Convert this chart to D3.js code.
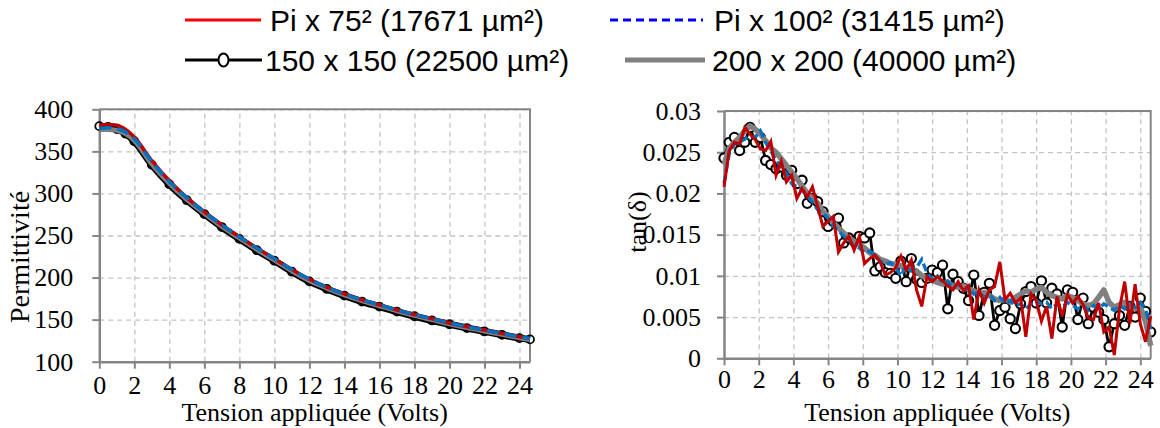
<!DOCTYPE html>
<html>
<head>
<meta charset="utf-8">
<script src="https://cdn.jsdelivr.net/npm/d3@7/dist/d3.min.js"></script>
<style>
  body { margin: 0; background: #fff; }
</style>
</head>
<body>
<svg id="chart" width="1160" height="428"></svg>
<script>
// ---- data ----
var seriesNames = ["Pi x 75\u00b2 (17671 \u00b5m\u00b2)", "Pi x 100\u00b2 (31415 \u00b5m\u00b2)",
                   "150 x 150 (22500 \u00b5m\u00b2)", "200 x 200 (40000 \u00b5m\u00b2)"];

var xTicks = [0, 2, 4, 6, 8, 10, 12, 14, 16, 18, 20, 22, 24];
var permTicks = [100, 150, 200, 250, 300, 350, 400];
var tanTicks = [0, 0.005, 0.01, 0.015, 0.02, 0.025, 0.03];
var tanTickLabels = ["0", "0.005", "0.01", "0.015", "0.02", "0.025", "0.03"];

// permittivity vs voltage
var voltsP = [0, 0.5, 1, 1.5, 2, 3, 4, 5, 6, 7, 8, 9, 10, 11, 12, 13, 14, 15, 16, 17, 18, 19, 20, 21, 22, 23, 24, 24.6];
var permRed   = [381, 382, 381, 376, 367, 339, 315, 295, 278, 262.5, 248.5, 235, 222.5, 209.5, 198, 188.5, 180.5, 173.5, 167.5, 161.5, 156, 151, 146, 141.5, 137.5, 133.5, 129.5, 127.5];
var permBlue  = [377, 378, 377, 373, 365, 338, 314, 295, 278, 262.5, 248.5, 235, 222.5, 209.5, 198, 188.5, 180.5, 173.5, 167.5, 161.5, 156, 151, 146, 141.5, 137.5, 133.5, 129.5, 127.5];
var permBlack = [380, 379, 376.5, 371, 362, 334, 311, 292, 275.5, 260, 246, 232.5, 220, 207, 195.5, 186.5, 178.5, 171.5, 165.5, 159.5, 154, 149, 144.5, 140, 136, 132, 128, 126.5];
var permGray  = [376, 376, 375, 371, 363, 335, 312, 293, 276.5, 261, 247, 233.5, 221, 208, 196.5, 187.5, 179.5, 172.5, 166.5, 160.5, 155, 150, 145, 140.5, 136.5, 132.5, 128.5, 126.5];

// tan(delta) vs voltage
var voltsT = [0, 0.3, 0.6, 0.9, 1.2, 1.5, 1.8, 2.1, 2.4, 2.7, 3, 3.3, 3.6, 3.9, 4.2, 4.5, 4.8, 5.1, 5.4, 5.7,
              6, 6.3, 6.6, 6.9, 7.2, 7.5, 7.8, 8.1, 8.4, 8.7, 9, 9.3, 9.6, 9.9, 10.2, 10.5, 10.8, 11.1, 11.4, 11.7,
              12, 12.3, 12.6, 12.9, 13.2, 13.5, 13.8, 14.1, 14.4, 14.7, 15, 15.3, 15.6, 15.9, 16.2, 16.5, 16.8, 17.1, 17.4, 17.7,
              18, 18.3, 18.6, 18.9, 19.2, 19.5, 19.8, 20.1, 20.4, 20.7, 21, 21.3, 21.6, 21.9, 22.2, 22.5, 22.8, 23.1, 23.4, 23.7,
              24, 24.3, 24.6];
var tanBlack = [0.0243, 0.0262, 0.0268, 0.0252, 0.0262, 0.0280, 0.0262, 0.0268, 0.0240, 0.0235, 0.0230, 0.0232, 0.0222, 0.0228, 0.0212, 0.0216, 0.0188, 0.0194, 0.0190, 0.0178,
                0.0160, 0.0166, 0.0170, 0.0140, 0.0146, 0.0142, 0.0148, 0.0146, 0.0152, 0.0106, 0.0111, 0.0104, 0.0103, 0.0097, 0.0118, 0.0093, 0.0121, 0.0096, 0.0092, 0.0097,
                0.0107, 0.0104, 0.0113, 0.0060, 0.0102, 0.0093, 0.0085, 0.0070, 0.0101, 0.0052, 0.0080, 0.0091, 0.0040, 0.0058, 0.0062, 0.0048, 0.0036, 0.0066, 0.0081, 0.0087,
                0.0067, 0.0094, 0.0067, 0.0085, 0.0078, 0.0038, 0.0083, 0.0080, 0.0047, 0.0073, 0.0042, 0.0062, 0.0056, 0.0047, 0.0014, 0.0042, 0.0052, 0.0040, 0.0063, 0.0050,
                0.0073, 0.0057, 0.0032];
var tanRed = [0.0208, 0.0252, 0.0262, 0.0260, 0.0280, 0.0272, 0.0265, 0.0254, 0.0252, 0.0263, 0.0222, 0.0239, 0.0214, 0.0222, 0.0194, 0.0206, 0.0196, 0.0208, 0.0184, 0.0160,
              0.0166, 0.0172, 0.0129, 0.0140, 0.0148, 0.0131, 0.0148, 0.0115, 0.0121, 0.0125, 0.0117, 0.0101, 0.0104, 0.0110, 0.0124, 0.0107, 0.0119, 0.0083, 0.0063, 0.0099,
              0.0093, 0.0099, 0.0094, 0.0088, 0.0083, 0.0093, 0.0082, 0.0088, 0.0047, 0.0083, 0.0067, 0.0083, 0.0087, 0.0117, 0.0071, 0.0079, 0.0067, 0.0073, 0.0026, 0.0078,
              0.0070, 0.0045, 0.0063, 0.0024, 0.0075, 0.0051, 0.0077, 0.0067, 0.0075, 0.0065, 0.0049, 0.0047, 0.0067, 0.0032, 0.0038, 0.0004, 0.0060, 0.0093, 0.0042, 0.0090,
              0.0042, 0.0020, 0.0051];
var tanGray = [0.0235, 0.0255, 0.0262, 0.0268, 0.0276, 0.0282, 0.0278, 0.0272, 0.0264, 0.0255, 0.0250, 0.0242, 0.0234, 0.0226, 0.0218, 0.0209, 0.0200, 0.0194, 0.0188, 0.0178,
               0.0172, 0.0165, 0.0158, 0.0152, 0.0146, 0.0142, 0.0138, 0.0134, 0.0128, 0.0125, 0.0120, 0.0118, 0.0115, 0.0114, 0.0112, 0.0110, 0.0108, 0.0106, 0.0100, 0.0098,
               0.0095, 0.0092, 0.0090, 0.0092, 0.0088, 0.0086, 0.0088, 0.0084, 0.0082, 0.0078, 0.0080, 0.0076, 0.0072, 0.0070, 0.0072, 0.0068, 0.0074, 0.0078, 0.0082, 0.0080,
               0.0084, 0.0086, 0.0080, 0.0076, 0.0074, 0.0072, 0.0076, 0.0074, 0.0070, 0.0066, 0.0064, 0.0066, 0.0074, 0.0083, 0.0068, 0.0062, 0.0065, 0.0068, 0.0062, 0.0060,
               0.0062, 0.0045, 0.0015];
var tanBlue = [0.0212, 0.0248, 0.0260, 0.0262, 0.0266, 0.0270, 0.0268, 0.0276, 0.0262, 0.0252, 0.0240, 0.0232, 0.0224, 0.0212, 0.0208, 0.0204, 0.0196, 0.0190, 0.0180, 0.0176,
               0.0170, 0.0160, 0.0155, 0.0148, 0.0144, 0.0136, 0.0134, 0.0128, 0.0130, 0.0124, 0.0118, 0.0114, 0.0116, 0.0110, 0.0100, 0.0112, 0.0106, 0.0110, 0.0120, 0.0104,
               0.0096, 0.0100, 0.0092, 0.0094, 0.0086, 0.0090, 0.0082, 0.0086, 0.0078, 0.0080, 0.0074, 0.0078, 0.0070, 0.0074, 0.0066, 0.0070, 0.0064, 0.0066, 0.0060, 0.0066,
               0.0070, 0.0066, 0.0068, 0.0060, 0.0066, 0.0062, 0.0068, 0.0064, 0.0060, 0.0064, 0.0058, 0.0064, 0.0060, 0.0066, 0.0062, 0.0058, 0.0064, 0.0060, 0.0066, 0.0062,
               0.0068, 0.0060, 0.0035];

// ---- setup ----
var svg = d3.select("#chart");
var serif = "'Liberation Serif', 'Times New Roman', serif";
var sans = "'Liberation Sans', Arial, sans-serif";
var axisGray = "#858585", gridGray = "#c4c4c4";
var cRed = "#c00000", cBlue = "#0070c0", cGray = "#808080";

function makePanel(opt) {
  var x = d3.scaleLinear().domain([0, 24.6]).range([opt.left, opt.right]);
  var y = d3.scaleLinear().domain(opt.yDomain).range([opt.bottom, opt.top]);
  var g = svg.append("g");

  // grid
  g.append("g")
    .attr("transform", "translate(0," + opt.bottom + ")")
    .call(d3.axisBottom(x).tickValues(xTicks).tickSize(-(opt.bottom - opt.top)).tickFormat(""))
    .call(s => s.select(".domain").remove())
    .selectAll("line").attr("stroke", gridGray).attr("stroke-width", 1.3).attr("stroke-dasharray", "5,4");
  g.append("g")
    .attr("transform", "translate(" + opt.left + ",0)")
    .call(d3.axisLeft(y).tickValues(opt.yTicks).tickSize(-(opt.right - opt.left)).tickFormat(""))
    .call(s => s.select(".domain").remove())
    .selectAll("line").attr("stroke", gridGray).attr("stroke-width", 1.3).attr("stroke-dasharray", "5,4");

  // frame top/right
  g.append("path")
    .attr("d", "M" + opt.left + "," + opt.top + "H" + opt.right + "V" + opt.bottom)
    .attr("fill", "none").attr("stroke", axisGray).attr("stroke-width", 2);

  // axes
  var xa = g.append("g")
    .attr("transform", "translate(0," + opt.bottom + ")")
    .call(d3.axisBottom(x).tickValues(xTicks).tickSizeInner(7).tickSizeOuter(0).tickPadding(opt.xPad));
  var ya = g.append("g")
    .attr("transform", "translate(" + opt.left + ",0)")
    .call(d3.axisLeft(y).tickValues(opt.yTicks).tickSizeInner(7).tickSizeOuter(0).tickPadding(opt.yPad)
      .tickFormat(opt.yFormat));
  [xa, ya].forEach(function (a) {
    a.attr("font-family", serif).attr("font-size", 26);
    a.select(".domain").attr("stroke", axisGray).attr("stroke-width", 2.5);
    a.selectAll(".tick line").attr("stroke", axisGray).attr("stroke-width", 2);
    a.selectAll(".tick text").attr("fill", "#000");
  });

  // titles
  g.append("text")
    .attr("x", (opt.left + opt.right) / 2).attr("y", 421)
    .attr("text-anchor", "middle")
    .attr("font-family", serif).attr("font-size", 26)
    .text("Tension appliqu\u00e9e (Volts)");
  g.append("text")
    .attr("transform", "translate(" + opt.yTitleX + "," + opt.yTitleY + ") rotate(-90)")
    .attr("text-anchor", "middle")
    .attr("font-family", serif).attr("font-size", opt.yTitleSize)
    .text(opt.yTitle);

  return { x: x, y: y, g: g };
}

var left = makePanel({ left: 99.3, right: 530, top: 109.3, bottom: 361.7, yDomain: [100, 400],
  yTicks: permTicks, yFormat: d3.format("d"), xPad: 7, yPad: 19,
  yTitle: "Permittivit\u00e9", yTitleX: 29, yTitleY: 257, yTitleSize: 28 });

var right = makePanel({ left: 724, right: 1150.7, top: 111, bottom: 358.3, yDomain: [0, 0.03],
  yTicks: tanTicks, yFormat: function (d, i) { return tanTickLabels[i]; }, xPad: 4, yPad: 16,
  yTitle: "tan(\u03b4)", yTitleX: 646, yTitleY: 222, yTitleSize: 26 });

// ---- left panel lines ----
(function () {
  var x = left.x, y = left.y, g = left.g.append("g");
  var line = d3.line().curve(d3.curveMonotoneX).x(d => x(d[0])).y(d => y(d[1]));
  var pts = s => voltsP.map((v, i) => [v, s[i]]);
  g.selectAll("circle").data(pts(permBlack)).enter().append("circle")
    .attr("cx", d => x(d[0])).attr("cy", d => y(d[1])).attr("r", 4)
    .attr("fill", "#fff").attr("stroke", "#000").attr("stroke-width", 1.8);
  g.append("path").attr("d", line(pts(permBlack))).attr("fill", "none").attr("stroke", "#000").attr("stroke-width", 7);
  g.append("path").attr("d", line(pts(permGray))).attr("fill", "none").attr("stroke", cGray).attr("stroke-width", 5);
  g.append("path").attr("d", line(pts(permRed))).attr("fill", "none").attr("stroke", cRed).attr("stroke-width", 3.5);
  g.append("path").attr("d", line(pts(permBlue))).attr("fill", "none").attr("stroke", cBlue).attr("stroke-width", 3.5)
    .attr("stroke-dasharray", "12,6");
})();

// ---- right panel lines ----
(function () {
  var x = right.x, y = right.y, g = right.g.append("g");
  var line = d3.line().x(d => x(d[0])).y(d => y(d[1]));
  var pts = s => voltsT.map((v, i) => [v, s[i]]);
  g.append("path").attr("d", line(pts(tanBlack))).attr("fill", "none").attr("stroke", "#000").attr("stroke-width", 2.8);
  g.selectAll("circle").data(pts(tanBlack)).enter().append("circle")
    .attr("cx", d => x(d[0])).attr("cy", d => y(d[1])).attr("r", 4.6)
    .attr("fill", "#fff").attr("stroke", "#000").attr("stroke-width", 2.1);
  g.append("path").attr("d", line(pts(tanGray))).attr("fill", "none").attr("stroke", cGray).attr("stroke-width", 5.5)
    .attr("stroke-linejoin", "round");
  g.append("path").attr("d", line(pts(tanBlue))).attr("fill", "none").attr("stroke", cBlue).attr("stroke-width", 3.3)
    .attr("stroke-dasharray", "8,4");
  g.append("path").attr("d", line(pts(tanRed))).attr("fill", "none").attr("stroke", cRed).attr("stroke-width", 3);
})();

// ---- legend ----
var leg = svg.append("g");
var legItems = [
  { name: seriesNames[0], x: 185, y: 20, len: 76, color: "#ff0000", width: 3, dash: null, marker: false, tx: 270 },
  { name: seriesNames[1], x: 610, y: 20, len: 93, color: "#0000ff", width: 3, dash: "8,5", marker: false, tx: 714 },
  { name: seriesNames[2], x: 185, y: 60, len: 77, color: "#000", width: 3, dash: null, marker: true, tx: 265 },
  { name: seriesNames[3], x: 625, y: 60, len: 80, color: "#808080", width: 5, dash: null, marker: false, tx: 712 }
];
legItems.forEach(function (d) {
  leg.append("line").attr("x1", d.x).attr("x2", d.x + d.len).attr("y1", d.y).attr("y2", d.y)
    .attr("stroke", d.color).attr("stroke-width", d.width).attr("stroke-dasharray", d.dash);
  if (d.marker) {
    leg.append("ellipse").attr("cx", d.x + d.len / 2).attr("cy", d.y).attr("rx", 5).attr("ry", 6.5)
      .attr("fill", "#fff").attr("stroke", "#000").attr("stroke-width", 2);
  }
  leg.append("text").attr("x", d.tx).attr("y", d.y + 11)
    .attr("font-family", sans).attr("font-size", 30).text(d.name);
});
</script>
</body>
</html>
